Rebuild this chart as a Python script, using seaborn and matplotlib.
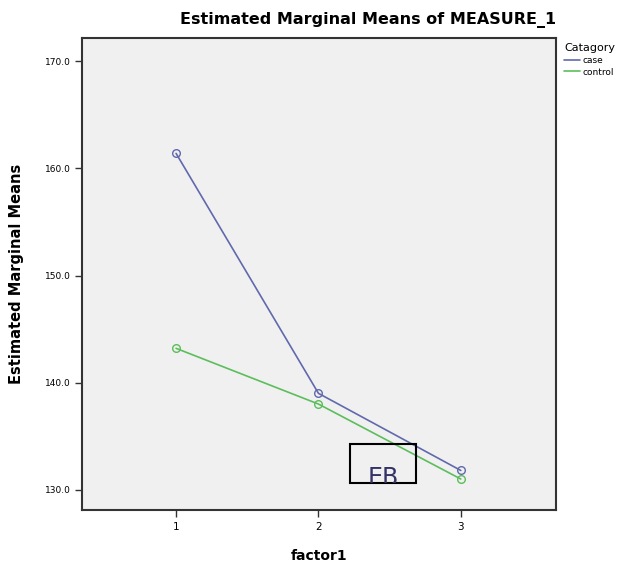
import matplotlib
matplotlib.use("Agg")
import matplotlib.pyplot as plt
import seaborn as sns
import pandas as pd
from matplotlib.patches import Rectangle

factor1 = [1, 2, 3]
case_means = [161.4, 139.0, 131.8]
control_means = [143.2, 138.0, 131.0]
categories = ["case", "control"]
yticks = [130, 140, 150, 160, 170]

df = pd.DataFrame({
    "factor1": factor1 * 2,
    "mean": case_means + control_means,
    "Catagory": [categories[0]] * 3 + [categories[1]] * 3,
})

sns.set_style("white")
plt.rcParams["font.family"] = ["DejaVu Sans"]
plt.rcParams["text.color"] = "black"
plt.rcParams["axes.labelcolor"] = "black"
plt.rcParams["xtick.color"] = "black"
plt.rcParams["ytick.color"] = "black"

fig = plt.figure(figsize=(6.27, 5.63), dpi=100)
ax = fig.add_axes([0.131, 0.094, 0.756, 0.839])
ax.set_facecolor("#f0f0f0")

palette = {"case": "#6169ad", "control": "#5cbd5c"}
sns.lineplot(data=df, x="factor1", y="mean", hue="Catagory", palette=palette,
             marker="o", markersize=5.5, linewidth=1.2, ax=ax, legend=True)
for ln in ax.lines:
    ln.set_markerfacecolor("none")
    ln.set_markeredgecolor(ln.get_color())
    ln.set_markeredgewidth(1.0)

ax.set_xlim(0.34, 3.67)
ax.set_ylim(128.1, 172.2)
ax.set_xticks(factor1)
ax.set_xticklabels([str(v) for v in factor1], fontsize=7.5)
ax.set_yticks(yticks)
ax.set_yticklabels([f"{v:.1f}" for v in yticks], fontsize=6.5)
ax.tick_params(axis="both", direction="out", length=5, width=1, color="#333333", left=True, bottom=True)
for s in ax.spines.values():
    s.set_color("#333333")
    s.set_linewidth(1.5)

ax.set_xlabel("factor1", fontsize=10, fontweight="bold", labelpad=12)
ax.set_ylabel("Estimated Marginal Means", fontsize=10.5, fontweight="bold", labelpad=15)
fig.text(0.887, 0.965, "Estimated Marginal Means of MEASURE_1", ha="right", va="center",
         fontsize=11.5, fontweight="bold")

leg = ax.legend(title="Catagory", loc="upper left", bbox_to_anchor=(1.005, 1.0),
                frameon=False, fontsize=6.5, title_fontsize=8, handlelength=1.8,
                handletextpad=0.3, borderaxespad=0.2, labelspacing=0.3)
leg._legend_box.align = "left"
for h in leg.legend_handles:
    h.set_marker("")

# watermark box
rx, ry, rw, rh = 350/627, 1 - 483/563, 66/627, 39/563
rect = Rectangle((rx, ry), rw, rh, transform=fig.transFigure, fill=False,
                 edgecolor="black", linewidth=1.5)
fig.patches.append(rect)
t = fig.text(rx + rw/2, ry - 0.012, "EB", ha="center", va="bottom", fontsize=17,
             color="#333366", transform=fig.transFigure)
t.set_clip_path(rect)

fig.savefig("out.png", dpi=100)
